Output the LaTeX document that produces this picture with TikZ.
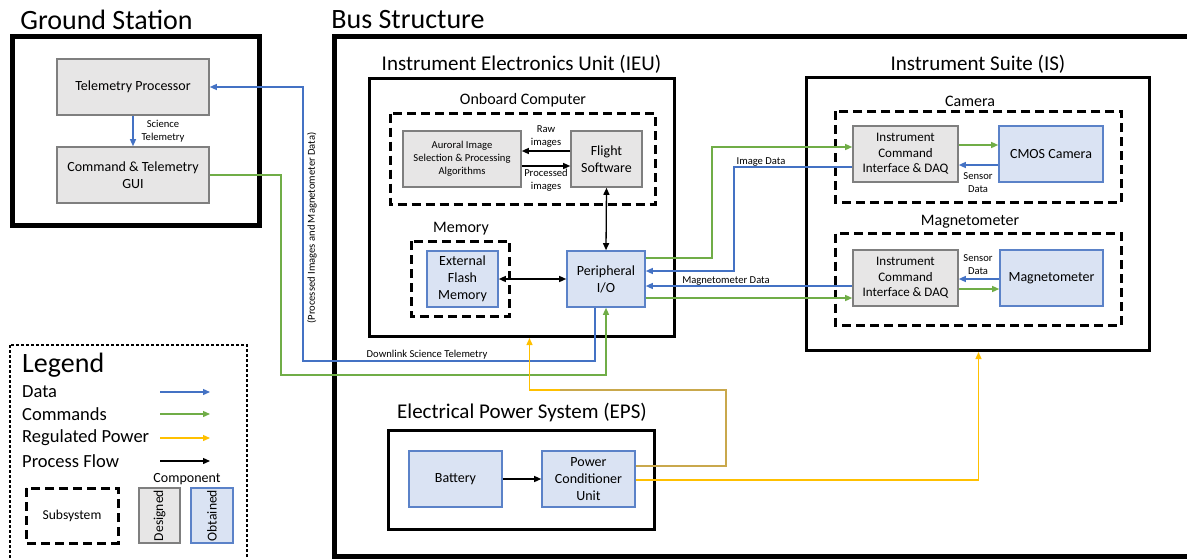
\documentclass[tikz,border=0pt]{standalone}
\usepackage{fontspec}
\setmainfont{Carlito}
\usetikzlibrary{arrows.meta}
\definecolor{dsgfill}{HTML}{E7E6E6}
\definecolor{dsgline}{HTML}{7F7F7F}
\definecolor{objfill}{HTML}{DAE3F3}
\definecolor{objline}{HTML}{5B82C8}
\definecolor{datac}{HTML}{4472C4}
\definecolor{cmdc}{HTML}{70AD47}
\definecolor{pwrc}{HTML}{FFC000}
\definecolor{pwrdark}{HTML}{C9A84C}
\newcommand\fsz[2]{\fontsize{#1}{#2}\selectfont}
\begin{document}
\begin{tikzpicture}[x=1pt,y=-1pt,
  >={Triangle[length=7pt,width=6pt]},
  dsg/.style={draw=dsgline,fill=dsgfill,line width=1.6pt,inner sep=1pt,align=center,font=\fsz{14}{17}},
  obt/.style={draw=objline,fill=objfill,line width=1.6pt,inner sep=1pt,align=center,font=\fsz{14}{17}},
  sysbox/.style={draw,line width=3pt,inner sep=0pt},
  outerbox/.style={draw,line width=5pt},
  subsys/.style={draw,line width=3pt,dash pattern=on 9pt off 5pt},
  bigtitle/.style={inner sep=0pt,font=\fsz{28}{34}},
  systitle/.style={inner sep=0pt,font=\fsz{21}{25}},
  grptitle/.style={inner sep=0pt,font=\fsz{16}{19}},
  lbl/.style={inner sep=0pt,align=center,font=\fsz{10.6}{13}},
  data/.style={draw=datac,line width=1.3pt,->},
  cmd/.style={draw=cmdc,line width=1.3pt,->},
  pwr/.style={draw=pwrc,line width=1.3pt,->},
  flow/.style={draw=black,line width=1.3pt,->},
  flow2/.style={draw=black,line width=1.3pt,<->},
  legtxt/.style={inner sep=0pt,anchor=west,font=\fsz{18.5}{22}}]
\useasboundingbox (0,0) rectangle (1187,558);

% outer frames and their titles
\draw[outerbox] (12.5,36) rectangle (259,225.5);
\draw[outerbox] (334,36) rectangle (1195,556);
\node[bigtitle] at (106.5,20) {Ground Station};
\node[bigtitle] at (408,20) {Bus Structure};

% ground station
\node[dsg,minimum width=152pt,minimum height=56pt] (tp) at (133,87) {Telemetry Processor};
\node[dsg,minimum width=152pt,minimum height=56pt] (gui) at (133,175) {Command \& Telemetry\\GUI};
\draw[data] (tp.south) -- (gui.north);
\node[lbl] at (163,131) {Science\\Telemetry};

% instrument electronics unit
\node[sysbox,minimum width=305pt,minimum height=258pt] (ieu) at (522,207.5) {};
\node[systitle] at (521.5,64) {Instrument Electronics Unit (IEU)};
\draw[subsys] (390.5,113.5) rectangle (655,204.5);
\node[grptitle] at (523,100) {Onboard Computer};
\draw[subsys] (411.5,241) rectangle (509.5,316.5);
\node[grptitle] at (461,229) {Memory};

\node[dsg,minimum width=118pt,minimum height=56pt,font=\fsz{10.6}{13}] (aur) at (462,159) {Auroral Image\\Selection \& Processing\\Algorithms};
\node[dsg,minimum width=71pt,minimum height=56pt] (fsw) at (606.5,159) {Flight\\Software};
\node[obt,minimum width=71pt,minimum height=56pt] (flash) at (462.5,279) {External\\Flash\\Memory};
\node[obt,minimum width=78pt,minimum height=56pt] (pio) at (606,279) {Peripheral\\I/O};

\draw[flow] ([yshift=8pt]fsw.west) -- ([yshift=8pt]aur.east);
\draw[flow] ([yshift=-7pt]aur.east) -- ([yshift=-7pt]fsw.west);
\node[lbl] at (546,137) {Raw\\images};
\node[lbl] at (546,180) {Processed\\images};
\draw[flow2] (fsw.south) -- (pio.north);
\draw[flow2] (flash.east) -- (pio.west);

% instrument suite
\node[sysbox,minimum width=343.5pt,minimum height=273pt] (is) at (977.75,214) {};
\node[systitle] at (978,64) {Instrument Suite (IS)};
\draw[subsys] (835.5,111.3) rectangle (1121.5,202.7);
\node[grptitle] at (970,101) {Camera};
\draw[subsys] (835.5,233.5) rectangle (1121.5,325);
\node[grptitle] at (970,222) {Magnetometer};

\node[dsg,minimum width=105pt,minimum height=56pt,font=\fsz{13}{15.6}] (ici1) at (905.5,154) {Instrument\\Command\\Interface \& DAQ};
\node[obt,minimum width=104pt,minimum height=56pt] (cmos) at (1051,154) {CMOS Camera};
\node[dsg,minimum width=105pt,minimum height=56pt,font=\fsz{13}{15.6}] (ici2) at (905.5,278) {Instrument\\Command\\Interface \& DAQ};
\node[obt,minimum width=103pt,minimum height=56pt] (mag) at (1051.5,278) {Magnetometer};

\draw[cmd] ([yshift=9pt]ici1.east) -- ([yshift=9pt]cmos.west);
\draw[data] ([yshift=-11pt]cmos.west) -- ([yshift=-11pt]ici1.east);
\node[lbl] at (978,183) {Sensor\\Data};
\draw[data] ([yshift=-1pt]mag.west) -- ([yshift=-1pt]ici2.east);
\draw[cmd] ([yshift=-11pt]ici2.east) -- ([yshift=-11pt]mag.west);
\node[lbl] at (978,265) {Sensor\\Data};

% links between IEU and instruments
\draw[cmd] ([yshift=21pt]pio.east) -| (712,147) -- ([yshift=7pt]ici1.west);
\draw[data] ([yshift=-13pt]ici1.west) -| (734,271) -- ([yshift=8pt]pio.east);
\node[lbl] at (761,162) {Image Data};
\draw[data] ([yshift=-8pt]ici2.west) -- ([yshift=-7pt]pio.east);
\node[lbl] at (726,281) {Magnetometer Data};
\draw[cmd] ([yshift=-19pt]pio.east) -- ([yshift=-20pt]ici2.west);

% links to the ground station
\draw[data] ([xshift=-11pt]pio.south) |- (303,361) |- (tp.east);
\node[lbl] at (427,355) {Downlink Science Telemetry};
\node[lbl,rotate=90] at (312,228) {(Processed Images and Magnetometer Data)};
\draw[cmd] (gui.east) -| (281,375) -| (pio.south);

% electrical power system
\node[sysbox,minimum width=266pt,minimum height=99pt] (eps) at (521.25,479.5) {};
\node[systitle] at (522,413) {Electrical Power System (EPS)};
\node[obt,minimum width=93pt,minimum height=56pt] (bat) at (455.5,479) {Battery};
\node[obt,minimum width=93pt,minimum height=56pt] (pcu) at (588.5,479) {Power\\Conditioner\\Unit};
\draw[flow] (bat.east) -- (pcu.west);

% regulated power feeds
\draw[pwr] ([yshift=13pt]pcu.east) -| (726,390) -| ([xshift=7.5pt]ieu.south);
\draw[pwrdark,line width=1.3pt] ([yshift=13pt]pcu.east) -| (726,390) -- (560,390);
\draw[pwr] ([yshift=-1pt]pcu.east) -| ([xshift=0.75pt]is.south);

% legend
\draw[line width=1.2pt,dash pattern=on 3pt off 2pt] (10,345) rectangle (247,570);
\node[inner sep=0pt,anchor=west,font=\fsz{28}{34}] at (22,365) {Legend};
\node[legtxt] at (22,392) {Data};
\node[legtxt] at (22,414) {Commands};
\node[legtxt] at (22,438) {Regulated Power};
\node[legtxt] at (22,461) {Process Flow};
\coordinate (k1a) at (160,392); \coordinate (k1b) at (210,392);
\coordinate (k2a) at (160,414); \coordinate (k2b) at (210,414);
\coordinate (k3a) at (160,438); \coordinate (k3b) at (210,438);
\coordinate (k4a) at (160,461); \coordinate (k4b) at (210,461);
\draw[data] (k1a) -- (k1b);
\draw[cmd] (k2a) -- (k2b);
\draw[pwr] (k3a) -- (k3b);
\draw[flow] (k4a) -- (k4b);
\node[inner sep=0pt,font=\fsz{14}{17}] at (187,479) {Component};
\draw[subsys] (26,488) rectangle (118,543);
\node[inner sep=0pt,font=\fsz{13.6}{16}] at (72,515.5) {Subsystem};
\node[dsg,minimum width=41pt,minimum height=55pt] (kd) at (159.5,515.5) {};
\node[inner sep=0pt,rotate=90,font=\fsz{13.6}{16}] at (kd) {Designed};
\node[obt,minimum width=42pt,minimum height=55pt] (ko) at (212,515.5) {};
\node[inner sep=0pt,rotate=90,font=\fsz{13.6}{16}] at (ko) {Obtained};
\end{tikzpicture}
\end{document}
